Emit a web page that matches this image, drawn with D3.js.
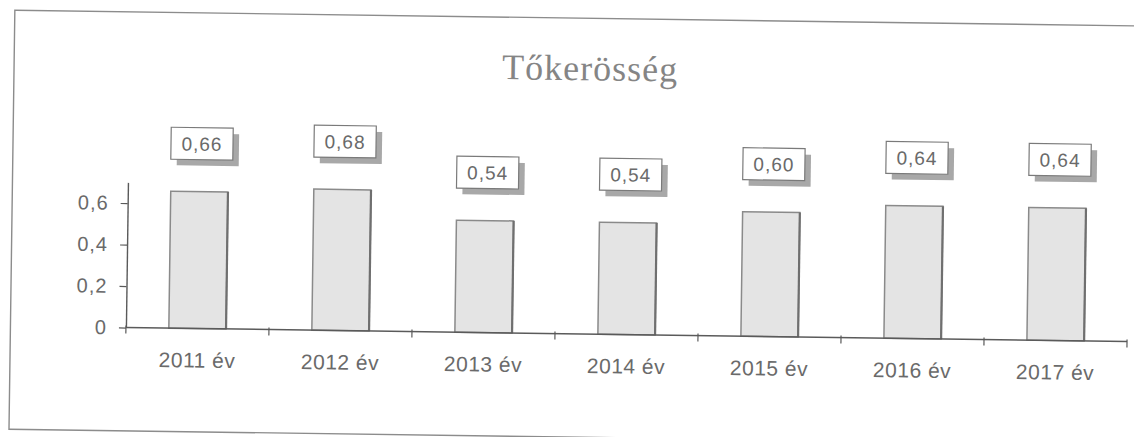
<!DOCTYPE html>
<html lang="hu">
<head>
<meta charset="utf-8">
<title>Tőkerösség</title>
<script src="https://cdn.jsdelivr.net/npm/d3@7"></script>
<style>
  html, body { margin: 0; padding: 0; background: #fff; }
  svg { display: block; }
</style>
</head>
<body>
<script>
// Categories and values of the equity ratio chart
const categories = ["2011 év", "2012 év", "2013 év", "2014 év", "2015 év", "2016 év", "2017 év"];
const values = [0.66, 0.68, 0.54, 0.54, 0.60, 0.64, 0.64];
const yTickValues = [0, 0.2, 0.4, 0.6];
const yMax = 0.7;
const title = "Tőkerösség";

const W = 1134, H = 437;
const huLocale = d3.formatLocale({ decimal: ",", thousands: " ", grouping: [3], currency: ["", " Ft"] });
const fmtLabel = huLocale.format(".2f");
const fmtTick = v => (v === 0 ? "0" : huLocale.format(".1f")(v));

const svg = d3.select("body").append("svg")
  .attr("width", W).attr("height", H);

// whole sheet sits slightly tilted
const root = svg.append("g").attr("transform", "rotate(0.8, 567, 218)");

// outer frame
root.append("rect")
  .attr("x", 12).attr("y", 18)
  .attr("width", 1140).attr("height", 419)
  .attr("fill", "none")
  .attr("stroke", "#8c8c8c")
  .attr("stroke-width", 1.4);

// title
root.append("text")
  .attr("x", 588).attr("y", 80)
  .attr("text-anchor", "middle")
  .attr("font-family", "'Liberation Serif', 'Times New Roman', serif")
  .attr("font-size", 36)
  .attr("letter-spacing", 1)
  .attr("fill", "#858585")
  .text(title);

const plot = { left: 127.5, right: 1128.7, top: 188.5, bottom: 333.7 };

const x = d3.scaleBand()
  .domain(categories)
  .range([plot.left, plot.right])
  .paddingInner(0.6)
  .paddingOuter(0.3);

const y = d3.scaleLinear()
  .domain([0, yMax])
  .range([plot.bottom, plot.top]);

// bars
const bars = root.append("g");
bars.selectAll("rect")
  .data(values)
  .join("rect")
  .attr("x", (d, i) => x(categories[i]))
  .attr("y", d => y(d))
  .attr("width", x.bandwidth())
  .attr("height", d => y(0) - y(d))
  .attr("fill", "#e4e4e4")
  .attr("stroke", "#8a8a8a")
  .attr("stroke-width", 1.5);

// darker right edge of each bar
bars.selectAll("line")
  .data(values)
  .join("line")
  .attr("x1", (d, i) => x(categories[i]) + x.bandwidth())
  .attr("x2", (d, i) => x(categories[i]) + x.bandwidth())
  .attr("y1", d => y(d))
  .attr("y2", y(0))
  .attr("stroke", "#6f6f6f")
  .attr("stroke-width", 2.2);

// y axis
const yAxis = root.append("g")
  .attr("transform", `translate(${plot.left},0)`)
  .call(d3.axisLeft(y).tickValues(yTickValues).tickFormat(fmtTick).tickSize(7).tickPadding(12).tickSizeOuter(0));
yAxis.select(".domain").attr("stroke", "#5a5a5a").attr("stroke-width", 1.4);
yAxis.selectAll(".tick line").attr("stroke", "#5a5a5a").attr("stroke-width", 1.2);
yAxis.selectAll(".tick text")
  .attr("font-family", "'Liberation Sans', Arial, sans-serif")
  .attr("font-size", 20)
  .attr("letter-spacing", 1)
  .attr("fill", "#6a6a6a");

// x axis: line along the baseline, ticks at the category boundaries
const xAxis = root.append("g").attr("transform", `translate(0,${y(0)})`);
xAxis.append("line")
  .attr("x1", plot.left).attr("x2", plot.right)
  .attr("stroke", "#5a5a5a").attr("stroke-width", 1.5);
const boundaries = d3.range(categories.length + 1).map(i => plot.left + i * x.step());
xAxis.selectAll(".btick")
  .data(boundaries)
  .join("line")
  .attr("class", "btick")
  .attr("x1", d => d).attr("x2", d => d)
  .attr("y1", -2).attr("y2", 6)
  .attr("stroke", "#5a5a5a").attr("stroke-width", 1.2);
xAxis.selectAll(".clabel")
  .data(categories)
  .join("text")
  .attr("class", "clabel")
  .attr("x", d => x(d) + x.bandwidth() / 2)
  .attr("y", 39)
  .attr("text-anchor", "middle")
  .attr("font-family", "'Liberation Sans', Arial, sans-serif")
  .attr("font-size", 21)
  .attr("letter-spacing", 0.5)
  .attr("fill", "#6a6a6a")
  .text(d => d);

// value labels in boxes with drop shadow
const boxW = 62, boxH = 32, shadow = 6, gap = 64;
const lbl = root.append("g").selectAll("g")
  .data(values)
  .join("g")
  .attr("transform", (d, i) => `translate(${x(categories[i]) + x.bandwidth() / 2 + 2},${y(d) - gap})`);
lbl.append("rect")
  .attr("x", -boxW / 2 + shadow).attr("y", shadow)
  .attr("width", boxW).attr("height", boxH)
  .attr("fill", "#a8a8a8");
lbl.append("rect")
  .attr("x", -boxW / 2).attr("y", 0)
  .attr("width", boxW).attr("height", boxH)
  .attr("fill", "#fff")
  .attr("stroke", "#7a7a7a")
  .attr("stroke-width", 1.2);
lbl.append("text")
  .attr("x", 0).attr("y", boxH / 2 + 7)
  .attr("text-anchor", "middle")
  .attr("font-family", "'Liberation Sans', Arial, sans-serif")
  .attr("font-size", 19)
  .attr("letter-spacing", 1)
  .attr("fill", "#6a6a6a")
  .text(d => fmtLabel(d));
</script>
</body>
</html>
